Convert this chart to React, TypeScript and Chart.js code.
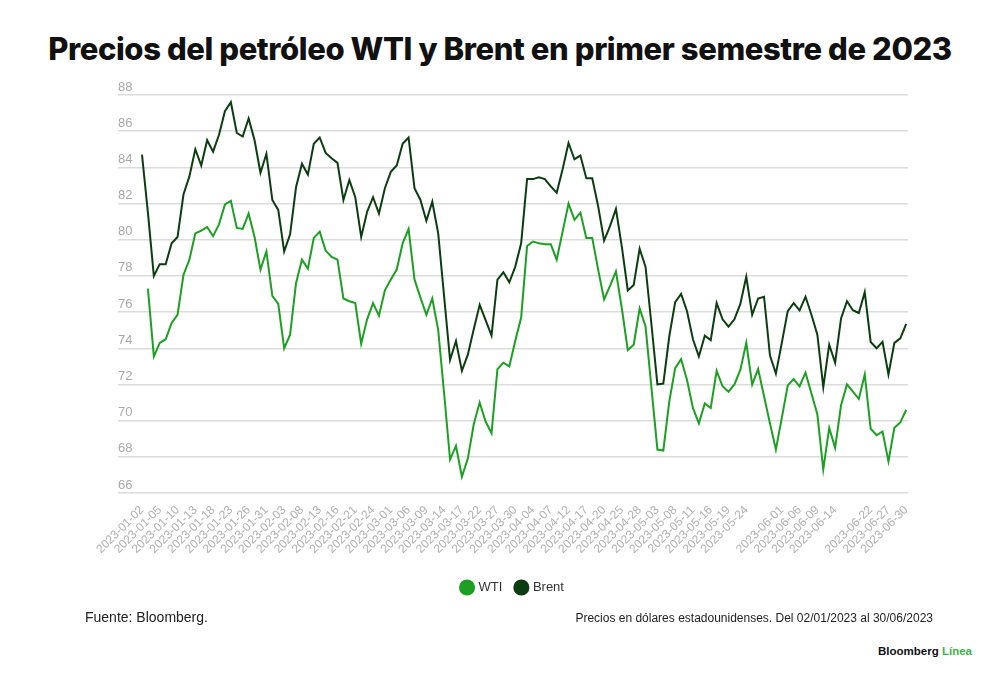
import React, { useEffect, useRef } from 'react';
import { Chart, registerables } from 'chart.js';

Chart.register(...registerables);

// días hábiles del 02/01/2023 al 30/06/2023
const dates = [
  '2023-01-02', '2023-01-03', '2023-01-04', '2023-01-05', '2023-01-06', '2023-01-09', '2023-01-10', '2023-01-11',
  '2023-01-12', '2023-01-13', '2023-01-16', '2023-01-17', '2023-01-18', '2023-01-19', '2023-01-20', '2023-01-23',
  '2023-01-24', '2023-01-25', '2023-01-26', '2023-01-27', '2023-01-30', '2023-01-31',
  '2023-02-01', '2023-02-02', '2023-02-03', '2023-02-06', '2023-02-07', '2023-02-08', '2023-02-09', '2023-02-10',
  '2023-02-13', '2023-02-14', '2023-02-15', '2023-02-16', '2023-02-17', '2023-02-20', '2023-02-21', '2023-02-22',
  '2023-02-23', '2023-02-24', '2023-02-27', '2023-02-28',
  '2023-03-01', '2023-03-02', '2023-03-03', '2023-03-06', '2023-03-07', '2023-03-08', '2023-03-09', '2023-03-10',
  '2023-03-13', '2023-03-14', '2023-03-15', '2023-03-16', '2023-03-17', '2023-03-20', '2023-03-21', '2023-03-22',
  '2023-03-23', '2023-03-24', '2023-03-27', '2023-03-28', '2023-03-29', '2023-03-30', '2023-03-31',
  '2023-04-03', '2023-04-04', '2023-04-05', '2023-04-06', '2023-04-07', '2023-04-10', '2023-04-11', '2023-04-12',
  '2023-04-13', '2023-04-14', '2023-04-17', '2023-04-18', '2023-04-19', '2023-04-20', '2023-04-21', '2023-04-24',
  '2023-04-25', '2023-04-26', '2023-04-27', '2023-04-28',
  '2023-05-01', '2023-05-02', '2023-05-03', '2023-05-04', '2023-05-05', '2023-05-08', '2023-05-09', '2023-05-10',
  '2023-05-11', '2023-05-12', '2023-05-15', '2023-05-16', '2023-05-17', '2023-05-18', '2023-05-19', '2023-05-22',
  '2023-05-23', '2023-05-24', '2023-05-25', '2023-05-26', '2023-05-29', '2023-05-30', '2023-05-31',
  '2023-06-01', '2023-06-02', '2023-06-05', '2023-06-06', '2023-06-07', '2023-06-08', '2023-06-09', '2023-06-12',
  '2023-06-13', '2023-06-14', '2023-06-15', '2023-06-16', '2023-06-19', '2023-06-20', '2023-06-21', '2023-06-22',
  '2023-06-23', '2023-06-26', '2023-06-27', '2023-06-28', '2023-06-29', '2023-06-30',
];

// fechas sin etiqueta en el eje
const hiddenLabels = ['2023-05-29', '2023-06-19'];

const wti = [
  null, 77.3, 73.55, 74.3, 74.5, 75.4, 75.85, 78.05, 78.9, 80.35,
  80.5, 80.7, 80.2, 80.85, 81.95, 82.15, 80.65, 80.6, 81.45, 80.15,
  78.35, 79.35, 76.9, 76.45, 74.0, 74.75, 77.6, 78.9, 78.4, 80.1,
  80.45, 79.4, 79.05, 78.9, 76.75, 76.6, 76.5, 74.25, 75.6, 76.5,
  75.8, 77.2, 77.8, 78.35, 79.8, 80.6, 77.8, 76.8, 75.85, 76.75,
  75.0, 71.5, 67.85, 68.6, 66.9, 67.9, 69.8, 71.0, 69.95, 69.3,
  72.85, 73.2, 73.0, 74.4, 75.7, 79.65, 79.9, 79.8, 79.75, 79.75,
  78.9, 80.45, 82.0, 81.1, 81.5, 80.1, 80.1, 78.35, 76.7, 77.45,
  78.25, 76.2, 73.9, 74.2, 76.2, 75.2, 71.8, 68.4, 68.35, 71.05,
  72.9, 73.4, 72.25, 70.7, 69.85, 70.95, 70.7, 72.75, 71.9, 71.6,
  72.0, 72.8, 74.3, 72.0, 72.85, null, 69.85, 68.4, 70.15, 71.95,
  72.3, 71.9, 72.65, 71.5, 70.35, 67.3, 69.6, 68.5, 70.85, 72.0,
  null, 71.2, 72.55, 69.55, 69.2, 69.4, 67.75, 69.6, 69.9, 70.6,
];

const brent = [
  84.7, 81.5, 78.0, 78.65, 78.65, 79.8, 80.15, 82.5, 83.5, 85.0,
  84.1, 85.5, 84.87, 85.8, 87.1, 87.6, 85.9, 85.7, 86.7, 85.5,
  83.7, 84.75, 82.2, 81.65, 79.35, 80.3, 82.9, 84.2, 83.6, 85.3,
  85.65, 84.8, 84.5, 84.25, 82.2, 83.3, 82.35, 80.15, 81.55, 82.35,
  81.45, 82.85, 83.75, 84.1, 85.3, 85.65, 82.85, 82.2, 81.05, 82.1,
  80.35, 76.85, 73.35, 74.4, 72.75, 73.65, 75.05, 76.4, 75.55, 74.7,
  77.8, 78.2, 77.65, 78.5, 79.8, 83.35, 83.35, 83.45, 83.35, 82.95,
  82.6, 83.9, 85.35, 84.45, 84.65, 83.4, 83.4, 81.85, 79.95, 80.75,
  81.7, 79.6, 77.2, 77.5, 79.5, 78.5, 75.3, 72.0, 72.05, 74.65,
  76.55, 77.0, 76.05, 74.5, 73.55, 74.7, 74.45, 76.5, 75.6, 75.2,
  75.6, 76.45, 77.95, 75.85, 76.75, 76.85, 73.6, 72.6, 74.3, 76.05,
  76.5, 76.1, 76.85, 75.85, 74.75, 71.85, 74.2, 73.2, 75.65, 76.6,
  76.1, 75.95, 77.1, 74.35, 74.0, 74.35, 72.55, 74.3, 74.55, 75.35,
];

const WTI_COLOR = '#1c9f22';
const BRENT_COLOR = '#0c3d10';

const toPoints = (values: (number | null)[]) =>
  values.map((v, i) => ({ x: i, y: v }));

const PriceChart: React.FC = () => {
  const canvasRef = useRef<HTMLCanvasElement>(null);

  useEffect(() => {
    if (!canvasRef.current) return;

    const chart = new Chart(canvasRef.current, {
      type: 'line',
      data: {
        datasets: [
          {
            label: 'WTI',
            data: toPoints(wti),
            borderColor: WTI_COLOR,
            backgroundColor: WTI_COLOR,
            borderWidth: 2,
            pointRadius: 0,
            tension: 0,
            spanGaps: true,
          },
          {
            label: 'Brent',
            data: toPoints(brent),
            borderColor: BRENT_COLOR,
            backgroundColor: BRENT_COLOR,
            borderWidth: 2,
            pointRadius: 0,
            tension: 0,
            spanGaps: true,
          },
        ],
      },
      options: {
        animation: false,
        responsive: true,
        maintainAspectRatio: false,
        layout: {
          padding: { top: 35, left: 118, right: 92, bottom: 6 },
        },
        plugins: {
          legend: {
            position: 'bottom',
            labels: {
              usePointStyle: true,
              pointStyle: 'circle',
              boxWidth: 10,
              boxHeight: 10,
              padding: 14,
              color: '#333',
              font: { family: 'Liberation Sans', size: 13 },
            },
          },
          tooltip: { enabled: false },
        },
        scales: {
          x: {
            type: 'linear',
            min: -4.05,
            max: 129.3,
            grid: { display: false },
            border: { display: false },
            afterFit: (scale) => {
              scale.height = 74;
            },
            ticks: {
              stepSize: 3,
              includeBounds: false,
              autoSkip: false,
              minRotation: 45,
              maxRotation: 45,
              padding: 2,
              color: '#b0b0b0',
              font: { family: 'Liberation Sans', size: 12 },
              callback: (value) => {
                const label = dates[value as number];
                if (!label || hiddenLabels.includes(label)) return '';
                return label;
              },
            },
          },
          y: {
            min: 66,
            max: 88,
            border: { display: false },
            grid: { color: '#dcdcdc', lineWidth: 1.5, drawTicks: false },
            ticks: {
              stepSize: 2,
              mirror: true,
              padding: 0,
              labelOffset: -8,
              color: '#a8a8a8',
              font: { family: 'Liberation Sans', size: 13 },
            },
          },
        },
      },
    });

    return () => {
      chart.destroy();
    };
  }, []);

  return (
    <div style={{ position: 'absolute', left: 0, top: 60, width: 1000, height: 550 }}>
      <canvas ref={canvasRef} />
    </div>
  );
};

export default function App() {
  useEffect(() => {
    document.body.style.margin = '0';
  }, []);

  return (
    <div
      style={{
        position: 'relative',
        width: 1000,
        height: 679,
        background: '#fff',
        fontFamily: 'Liberation Sans, sans-serif',
        overflow: 'hidden',
      }}
    >
      <div
        style={{
          position: 'absolute',
          top: 31,
          left: 0,
          width: 1000,
          textAlign: 'center',
          fontFamily: 'Inter, sans-serif',
          fontWeight: 800,
          fontSize: 31,
          lineHeight: '36px',
          letterSpacing: -0.4,
          color: '#111',
        }}
      >
        Precios del petróleo WTI y Brent en primer semestre de 2023
      </div>
      <PriceChart />
      <div style={{ position: 'absolute', left: 85, top: 608, fontSize: 14, lineHeight: '18px', color: '#222' }}>
        Fuente: Bloomberg.
      </div>
      <div
        style={{
          position: 'absolute',
          right: 67,
          top: 610,
          fontSize: 12,
          lineHeight: '16px',
          color: '#222',
        }}
      >
        Precios en dólares estadounidenses. Del 02/01/2023 al 30/06/2023
      </div>
      <div
        style={{
          position: 'absolute',
          right: 28,
          top: 643,
          fontSize: 11.5,
          lineHeight: '16px',
          fontWeight: 700,
          color: '#111',
        }}
      >
        Bloomberg <span style={{ color: '#3cb44b' }}>Línea</span>
      </div>
    </div>
  );
}
